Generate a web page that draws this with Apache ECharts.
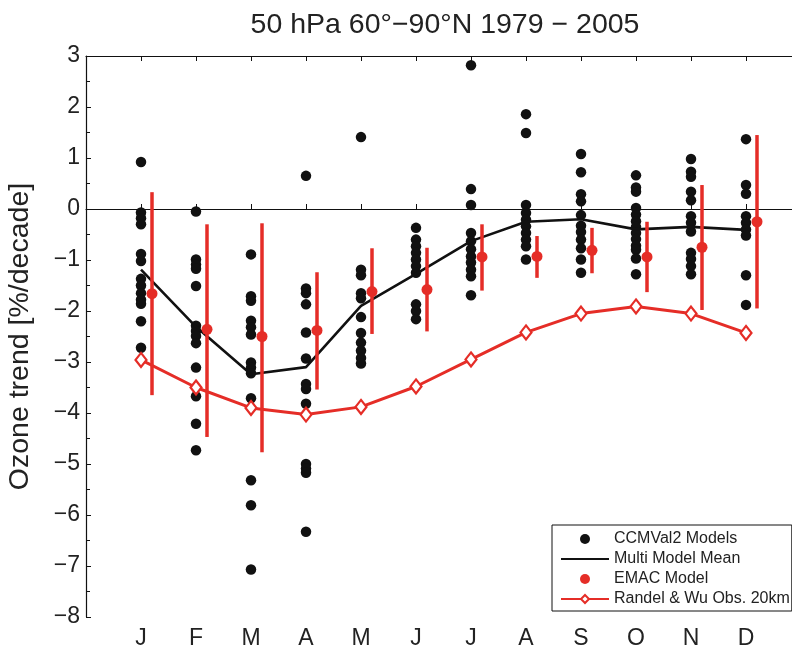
<!DOCTYPE html>
<html>
<head>
<meta charset="utf-8">
<script src="https://cdn.jsdelivr.net/npm/echarts@6/dist/echarts.min.js"></script>
<style>
  html, body { margin: 0; padding: 0; background: #fff; }
  #chart { width: 792px; height: 657px; }
</style>
</head>
<body>
<div id="chart"></div>
<script>
// month letters on the x axis
const months = ['J', 'F', 'M', 'A', 'M', 'J', 'J', 'A', 'S', 'O', 'N', 'D']
const yTicks = [-8, -7, -6, -5, -4, -3, -2, -1, 0, 1, 2, 3]

// single model trends (%/decade), one list per month
const modelTrends = [
  [0.92, -0.07, -0.18, -0.3, -0.88, -1.02, -1.37, -1.5, -1.65, -1.78, -1.86, -2.2, -2.72],
  [-0.05, -0.99, -1.09, -1.17, -1.51, -2.29, -2.39, -2.49, -2.63, -3.11, -3.67, -4.21, -4.73],
  [-0.89, -1.71, -1.8, -2.19, -2.32, -2.46, -3.01, -3.11, -3.22, -3.71, -5.32, -5.81, -7.07],
  [0.65, -1.56, -1.65, -1.87, -2.42, -2.93, -3.43, -3.53, -3.82, -5.0, -5.09, -5.17, -6.33],
  [1.41, -1.19, -1.3, -1.65, -1.75, -2.12, -2.43, -2.62, -2.78, -2.92, -3.03],
  [-0.37, -0.6, -0.73, -0.86, -0.99, -1.12, -1.25, -1.87, -2.0, -2.16],
  [2.82, 0.39, 0.08, -0.47, -0.63, -0.79, -0.93, -1.05, -1.19, -1.32, -1.69],
  [1.86, 1.49, 0.08, -0.08, -0.21, -0.34, -0.47, -0.6, -0.73, -0.99],
  [1.08, 0.72, 0.29, 0.15, -0.12, -0.33, -0.45, -0.6, -0.77, -0.99, -1.25],
  [0.66, 0.42, 0.34, 0.02, -0.11, -0.24, -0.35, -0.47, -0.59, -0.72, -0.8, -0.97, -1.28],
  [0.98, 0.73, 0.63, 0.34, 0.17, -0.14, -0.27, -0.44, -0.86, -0.98, -1.12, -1.28],
  [1.37, 0.47, 0.3, -0.14, -0.27, -0.4, -0.52, -1.3, -1.88]
]
const meanTrend = [-1.19, -2.31, -3.24, -3.1, -1.9, -1.27, -0.63, -0.25, -0.2, -0.4, -0.35, -0.41]
const emacTrend = [-1.66, -2.36, -2.5, -2.38, -1.62, -1.58, -0.94, -0.93, -0.81, -0.94, -0.75, -0.25]
const emacLow = [-3.65, -4.47, -4.77, -3.54, -2.45, -2.4, -1.6, -1.35, -1.26, -1.63, -1.98, -1.95]
const emacHigh = [0.33, -0.3, -0.28, -1.24, -0.77, -0.76, -0.3, -0.53, -0.37, -0.25, 0.47, 1.45]
const obsTrend = [-2.96, -3.5, -3.9, -4.03, -3.88, -3.48, -2.95, -2.42, -2.05, -1.91, -2.05, -2.43]

const RED = '#e52d27'
const INK = '#111'
const FONT = 'Liberation Sans, Arial, sans-serif'
const emacShift = 0.2

const monthPos = months.map((m, i) => i + 1)
const modelPoints = []
modelTrends.forEach((vals, i) => {
  vals.forEach(v => modelPoints.push([i + 1, v]))
})

const chart = echarts.init(document.getElementById('chart'))

const baseX = {
  type: 'value',
  min: 0,
  max: 13,
  interval: 1,
  splitLine: { show: false },
  axisLine: { lineStyle: { color: INK, width: 1.2 } },
  axisTick: { inside: true, length: 5, customValues: monthPos, lineStyle: { color: INK } }
}

chart.setOption({
  animation: false,
  textStyle: { fontFamily: FONT },
  title: {
    text: '50 hPa 60°\u221290°N 1979 \u2212 2005',
    left: 440,
    top: 6,
    textAlign: 'center',
    textStyle: { fontFamily: FONT, fontSize: 28.5, fontWeight: 'normal', color: '#222' }
  },
  grid: { left: 86, top: 56, bottom: 40, right: -9, outerBoundsMode: 'none', containLabel: false },
  xAxis: [
    Object.assign({}, baseX, {
      position: 'bottom',
      axisLabel: {
        customValues: monthPos,
        formatter: v => months[v - 1] || '',
        fontSize: 23, color: '#222', margin: 10, fontFamily: FONT
      }
    }),
    Object.assign({}, baseX, { position: 'top', axisLabel: { show: false } })
  ],
  yAxis: {
    type: 'value',
    min: yTicks[0],
    max: yTicks[yTicks.length - 1],
    interval: 1,
    name: 'Ozone trend [%/decade]',
    nameLocation: 'middle',
    nameGap: 51,
    nameTextStyle: { fontSize: 28.5, color: '#222', fontFamily: FONT },
    splitLine: { show: false },
    axisLine: { show: true, lineStyle: { color: INK, width: 1.2 } },
    axisTick: { inside: true, length: 5, lineStyle: { color: INK } },
    minorTick: { show: true, splitNumber: 2, length: 4, lineStyle: { color: INK } },
    axisLabel: {
      fontSize: 23, color: '#222', margin: 6, fontFamily: FONT,
      formatter: v => String(v).replace('-', '\u2212')
    }
  },
  legend: {
    orient: 'vertical',
    left: 552,
    top: 525,
    padding: [6, 2, 4, 8],
    backgroundColor: '#fff',
    borderColor: INK,
    borderWidth: 1,
    borderRadius: 0,
    itemWidth: 48,
    itemHeight: 10,
    itemGap: 4,
    textStyle: { fontSize: 16, lineHeight: 16, color: '#222', fontFamily: FONT },
    data: [
      'CCMVal2 Models',
      { name: 'Multi Model Mean', itemStyle: { opacity: 0 } },
      'EMAC Model',
      'Randel & Wu Obs. 20km'
    ]
  },
  series: [
    {
      name: 'CCMVal2 Models',
      type: 'scatter',
      symbol: 'circle',
      symbolSize: 10.5,
      itemStyle: { color: INK, opacity: 1 },
      data: modelPoints,
      z: 2
    },
    {
      name: 'Multi Model Mean',
      type: 'line',
      symbol: 'none',
      lineStyle: { color: INK, width: 2.6 },
      itemStyle: { color: INK },
      data: meanTrend.map((v, i) => [i + 1, v]),
      markLine: {
        silent: true,
        symbol: 'none',
        label: { show: false },
        lineStyle: { color: INK, width: 1, type: 'solid' },
        data: [{ yAxis: 0 }]
      },
      z: 3
    },
    {
      name: 'Randel & Wu Obs. 20km',
      type: 'line',
      symbol: 'diamond',
      symbolSize: [11, 14],
      lineStyle: { color: RED, width: 3 },
      itemStyle: { color: '#fff', borderColor: RED, borderWidth: 2.2 },
      data: obsTrend.map((v, i) => [i + 1, v]),
      z: 4
    },
    {
      name: 'EMAC range',
      type: 'custom',
      data: emacLow.map((lo, i) => [i + 1 + emacShift, lo, emacHigh[i]]),
      renderItem: (params, api) => {
        const a = api.coord([api.value(0), api.value(1)])
        const b = api.coord([api.value(0), api.value(2)])
        return {
          type: 'line',
          shape: { x1: a[0], y1: a[1], x2: b[0], y2: b[1] },
          style: { stroke: RED, lineWidth: 3.5 }
        }
      },
      z: 5
    },
    {
      name: 'EMAC Model',
      type: 'scatter',
      symbol: 'circle',
      symbolSize: 11,
      itemStyle: { color: RED, opacity: 1 },
      data: emacTrend.map((v, i) => [i + 1 + emacShift, v]),
      z: 6
    }
  ]
})
</script>
</body>
</html>
